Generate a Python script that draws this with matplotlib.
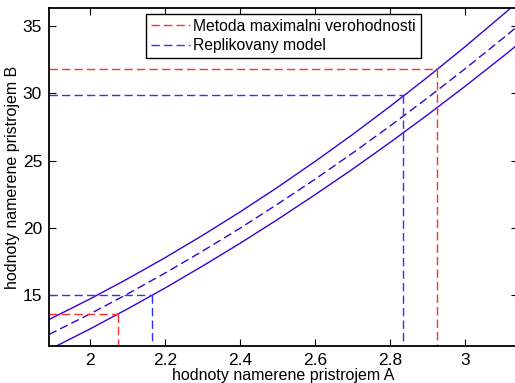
import matplotlib
matplotlib.use("Agg")
import matplotlib.pyplot as plt

plt.rcParams['font.family'] = ['Liberation Sans', 'DejaVu Sans']

# values
x = [1.89, 2.0, 2.1, 2.2, 2.3, 2.4, 2.5, 2.6, 2.7, 2.8, 2.9, 3.0, 3.1, 3.14]
y_upper = [13.20, 14.74, 16.23, 17.80, 19.46, 21.20, 23.03, 24.95, 26.95, 29.04, 31.21, 33.47, 35.82, 36.78]
y_center = [12.09, 13.63, 15.11, 16.66, 18.29, 19.99, 21.78, 23.63, 25.57, 27.58, 29.67, 31.83, 34.07, 34.99]
y_lower = [10.96, 12.51, 14.00, 15.55, 17.18, 18.87, 20.64, 22.48, 24.38, 26.36, 28.41, 30.53, 32.72, 33.62]

# interval limits: (x low, y low, x high, y high)
ml_limits = [2.073, 13.59, 2.926, 31.79]
rep_limits = [2.165, 15.0, 2.834, 29.88]

xlim = (1.89, 3.141)
ylim = (11.26, 36.31)
xticks = [2, 2.2, 2.4, 2.6, 2.8, 3]
xticklabels = ['2', '2.2', '2.4', '2.6', '2.8', '3']
yticks = [15, 20, 25, 30, 35]

curve_col = '#3a00d4'
dash = (0, (6, 3))


def main() -> None:
    fig = plt.figure(figsize=(5.15, 3.83), dpi=100)
    ax = fig.add_axes([0.0951, 0.0974, 0.9107, 0.8806])

    ax.plot(x, y_upper, color=curve_col, lw=1.0)
    ax.plot(x, y_center, color=curve_col, lw=1.0, linestyle=dash)
    ax.plot(x, y_lower, color=curve_col, lw=1.0)

    for lim, col, lab in [(ml_limits, '#ff3030', 'Metoda maximalni verohodnosti'),
                          (rep_limits, '#3030ff', 'Replikovany model')]:
        x0, y0, x1, y1 = lim
        ax.plot([xlim[0], x0], [y0, y0], color=col, lw=1.0, linestyle=dash, label=lab)
        ax.plot([x0, x0], [y0, ylim[0]], color=col, lw=1.0, linestyle=dash)
        ax.plot([xlim[0], x1], [y1, y1], color=col, lw=1.0, linestyle=dash)
        ax.plot([x1, x1], [y1, ylim[0]], color=col, lw=1.0, linestyle=dash)

    ax.set_xlim(*xlim)
    ax.set_ylim(*ylim)
    ax.set_xticks(xticks)
    ax.set_xticklabels(xticklabels)
    ax.set_yticks(yticks)
    ax.tick_params(direction='in', length=5, width=0.8, top=True, right=True,
                   labelsize=12.5, pad=5)
    for sp in ax.spines.values():
        sp.set_linewidth(1.3)

    ax.set_xlabel('hodnoty namerene pristrojem A', fontsize=11.5, labelpad=0)
    ax.set_ylabel('hodnoty namerene pristrojem B', fontsize=11.5, labelpad=2)

    leg = ax.legend(loc='upper center', fontsize=11.3, frameon=True, fancybox=False,
                    edgecolor='black', framealpha=1, handlelength=2.5,
                    handletextpad=0.2, borderpad=0.3, labelspacing=0.3,
                    borderaxespad=0.35)
    leg.get_frame().set_linewidth(1.0)

    fig.savefig('out.png', dpi=100)


if __name__ == "__main__":
    main()
